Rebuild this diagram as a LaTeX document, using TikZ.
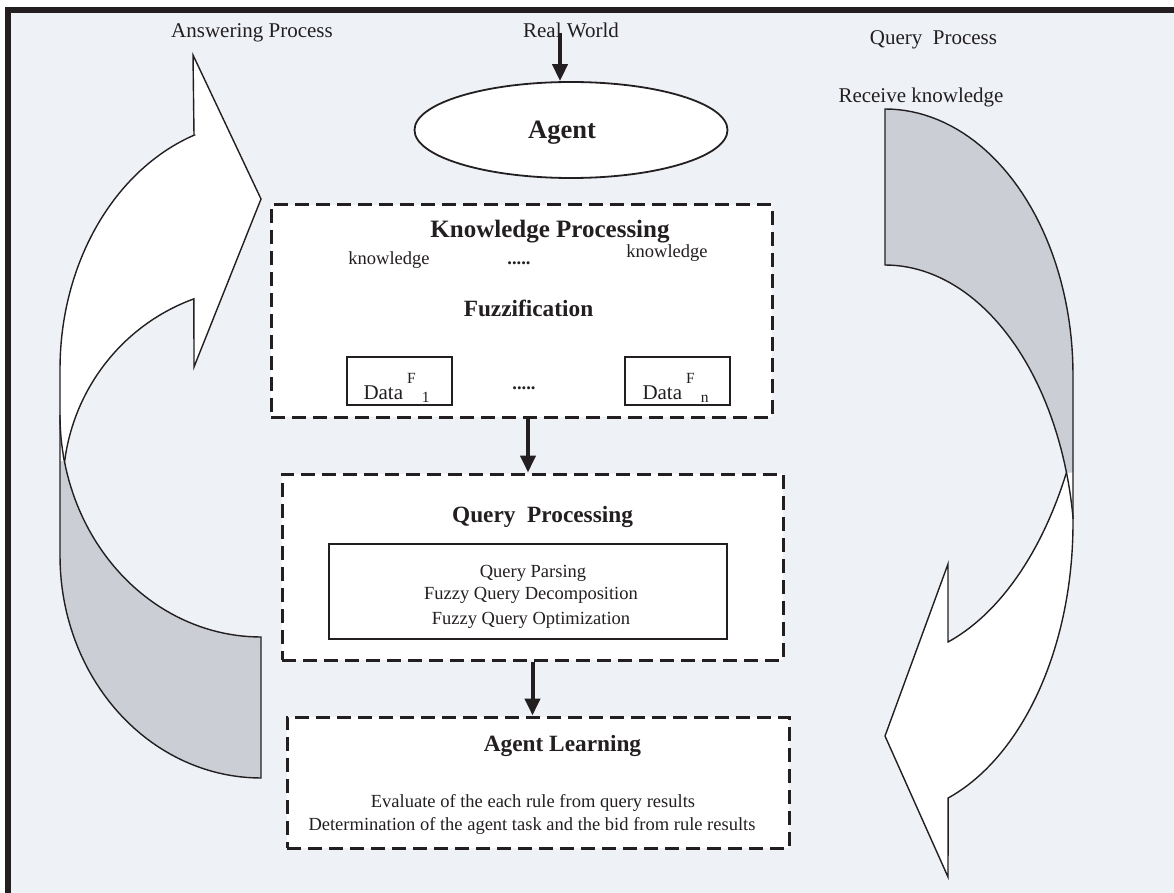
\documentclass[tikz,border=0pt]{standalone}
\usepackage{fontspec}
\setmainfont{Liberation Serif}
\usetikzlibrary{arrows.meta,shapes.geometric,calc}
\definecolor{bgc}{RGB}{238,241,246}
\definecolor{grayf}{RGB}{203,206,213}
\definecolor{ink}{RGB}{35,31,32}
\newcommand{\fsL}{\fontsize{21}{25}\selectfont}
\newcommand{\fsB}{\fontsize{18.5}{22}\selectfont}
\newcommand{\fsH}[1]{\fontsize{#1}{#1}\selectfont\bfseries}
\newcommand{\supF}[1]{\raisebox{16pt}{\fontsize{15.5}{15.5}\selectfont F}\hspace{6pt}\raisebox{-3pt}{\fontsize{15.5}{15.5}\selectfont #1}}
\begin{document}
\begin{tikzpicture}[x=1pt,y=-1pt,
  dbox/.style={draw=ink, line width=3pt, dash pattern=on 14pt off 7pt, fill=white, inner sep=0pt, rectangle},
  sbox/.style={draw=ink, line width=1.5pt, fill=white, inner sep=0pt, rectangle},
  lbl/.style={inner sep=0pt, anchor=base, text=ink},
  arr/.style={draw=ink, line width=4pt, -{Triangle[length=17pt,width=15pt]}},
  curv/.style={draw=ink, line width=1.4pt, line join=miter},
  pl/.style={variable=\t, domain=0:1, samples=45}
]
\useasboundingbox (0,0) rectangle (1174,893);
% frame and background
\fill[white] (0,0) rectangle (1174,893);
\fill[bgc] (8,10) rectangle (1174,893);
\draw[ink, line width=6pt] (5,10) -- (1174,10);
\draw[ink, line width=6pt] (8,7) -- (8,893);

% ---------- left curved arrow (Answering Process) ----------
\fill[grayf] (60,461) -- (60,556)
  -- plot[pl] ({261+201*cos(180-90*\t)},{556+222*sin(180-90*\t)})
  -- (261,637)
  -- plot[pl] ({261+201*cos(90+78.3*\t)},{415+222*sin(90+78.3*\t)})
  -- cycle;
\fill[white] (60,461) -- (60,369)
  -- plot[pl] ({261+201*cos(180+70.6*\t)},{369+248*sin(180+70.6*\t)})
  -- (193,55) -- (261,199) -- (194,367) -- (194,299)
  -- plot[pl] ({261+198*cos(250.2-62.73*\t)},{487+200*sin(250.2-62.73*\t)})
  -- cycle;
\draw[curv] (261,778) -- (261,637)
  -- plot[pl] ({261+201*cos(90+78.3*\t)},{415+222*sin(90+78.3*\t)})
  -- plot[pl] ({261+198*cos(187.47+62.73*\t)},{487+200*sin(187.47+62.73*\t)})
  -- (194,367) -- (261,199) -- (193,55) -- (194,135)
  -- plot[pl] ({261+201*cos(250.6-70.6*\t)},{369+248*sin(250.6-70.6*\t)})
  -- (60,556)
  -- plot[pl] ({261+201*cos(180-90*\t)},{556+222*sin(180-90*\t)})
  -- cycle;
\draw[curv] plot[pl] ({261+201*cos(168.3+11.7*\t)},{415+222*sin(168.3+11.7*\t)});

% ---------- right curved arrow (Query Process) ----------
\fill[grayf] (885,265) -- (885,109)
  -- plot[pl] ({885+188*cos(270+90*\t)},{375+266*sin(270+90*\t)})
  -- (1073,472.5)
  -- plot[pl] ({885+190*cos(342.75-72.75*\t)},{560+295*sin(342.75-72.75*\t)})
  -- cycle;
\fill[white] (1073,472.5) -- (1073,523)
  -- plot[pl] ({885+188*cos(70.4*\t)},{523+292*sin(70.4*\t)})
  -- (948,877) -- (885,736) -- (948,564) -- (948,642)
  -- plot[pl] ({885+205*cos(72.1-44.1*\t)},{310.3+348.6*sin(72.1-44.1*\t)})
  -- cycle;
\draw[curv] (885,265) -- (885,109)
  -- plot[pl] ({885+188*cos(270+90*\t)},{375+266*sin(270+90*\t)})
  -- (1073,523)
  -- plot[pl] ({885+188*cos(70.4*\t)},{523+292*sin(70.4*\t)})
  -- (948,877) -- (885,736) -- (948,564) -- (948,642)
  -- plot[pl] ({885+205*cos(72.1-44.1*\t)},{310.3+348.6*sin(72.1-44.1*\t)})
  -- plot[pl] ({885+190*cos(342.75-72.75*\t)},{560+295*sin(342.75-72.75*\t)})
  -- cycle;
\draw[curv] plot[pl] ({885+190*cos(342.75+9.25*\t)},{560+295*sin(342.75+9.25*\t)});

% ---------- top labels ----------
\node[lbl, font=\fsL] (ansp) at (252,38) {Answering Process};
\node[lbl, font=\fsL] (rwl) at (571,38) {Real World};
\node[lbl, font=\fsL] (qprc) at (933.5,45) {Query\ \ Process};
\node[lbl, font=\fsL] (rk) at (921,103) {Receive knowledge};

% ---------- agent ----------
\node[draw=ink, line width=1.8pt, fill=white, ellipse, minimum width=313, minimum height=96, inner sep=0pt] (agent) at (571,130) {};
\node[lbl, font=\fsH{26.5}] (agl) at (562,139) {Agent};
\coordinate (rw) at (560,33);
\draw[arr] (rw) -- (rw |- agent.north);

% ---------- knowledge processing ----------
\node[dbox, minimum width=501, minimum height=212] (kp) at (521.5,311) {};
\node[lbl, font=\fsH{25}] (kpl) at (550,238) {Knowledge Processing};
\node[lbl, font=\fsB] (kn1) at (389,264) {knowledge};
\node[lbl, font=\fsB] (kn2) at (667,258) {knowledge};
\node[lbl, font=\fsB\bfseries] (dots1) at (519,265) {.....};
\node[lbl, font=\fsH{23.3}] (fz) at (528.5,316) {Fuzzification};
\node[sbox, minimum width=105, minimum height=48] (d1) at (399.5,381) {};
\node[sbox, minimum width=105, minimum height=48] (dn) at (677.5,381) {};
\node[lbl, font=\fsL] (d1t) at (396.5,399) {Data\hspace{4pt}\supF{1}};
\node[lbl, font=\fsL] (dnt) at (675.5,399) {Data\hspace{4pt}\supF{n}};
\node[lbl, font=\fsB\bfseries] (dots2) at (524,389) {.....};

% ---------- query processing ----------
\node[dbox, minimum width=501, minimum height=186] (qp) at (532.5,567) {};
\node[lbl, font=\fsH{23.3}] (qpt) at (542.5,522) {Query\ \ Processing};
\node[sbox, minimum width=398, minimum height=95] (qin) at (528,591.5) {};
\node[lbl, font=\fsB] (q1) at (533,577) {Query Parsing};
\node[lbl, font=\fsB] (q2) at (531,599) {Fuzzy Query Decomposition};
\node[lbl, font=\fsB] (q3) at (531,624) {Fuzzy Query Optimization};

% ---------- agent learning ----------
\node[dbox, minimum width=502, minimum height=131] (al) at (538,782.5) {};
\node[lbl, font=\fsH{23.3}] (alt) at (562.5,751) {Agent Learning};
\node[lbl, font=\fsB] (e1) at (533,807) {Evaluate of the each rule from query results};
\node[lbl, font=\fsB] (e2) at (532,830) {Determination of the agent task and the bid from rule results};

% ---------- connectors ----------
\coordinate (k1) at ($(kp.south)+(6.5,0)$);
\draw[arr] (k1) -- (k1 |- qp.north);
\draw[arr] (qp.south) -- (qp.south |- al.north);
\end{tikzpicture}
\end{document}
